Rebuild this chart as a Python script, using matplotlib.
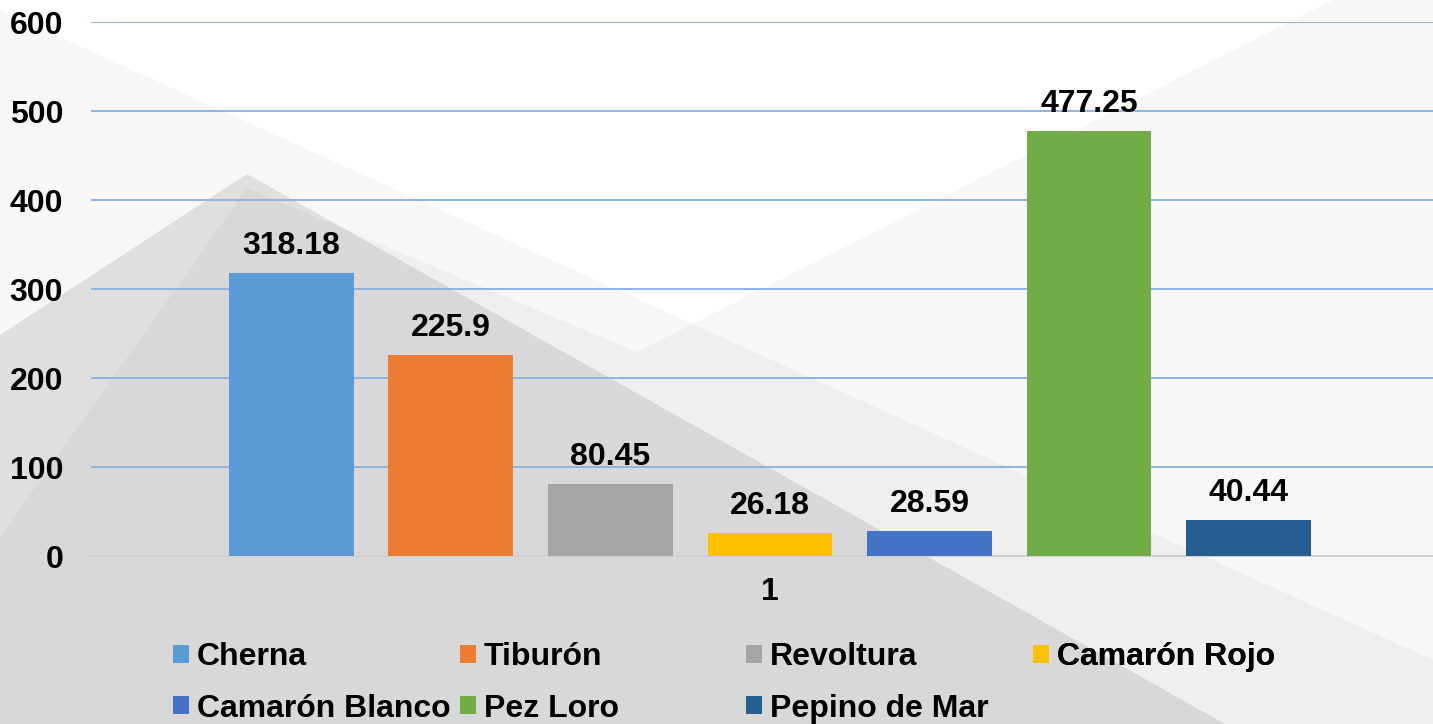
import matplotlib
matplotlib.use("Agg")
import matplotlib.pyplot as plt
from matplotlib.patches import Polygon, Patch
import numpy as np

plt.rcParams['font.family'] = ['Liberation Sans', 'DejaVu Sans']
plt.rcParams['font.weight'] = 'bold'

SPECIES = ['Cherna', 'Tiburón', 'Revoltura', 'Camarón Rojo',
           'Camarón Blanco', 'Pez Loro', 'Pepino de Mar']
VALUES = [318.18, 225.9, 80.45, 26.18, 28.59, 477.25, 40.44]
LABELS = ['318.18', '225.9', '80.45', '26.18', '28.59', '477.25', '40.44']
COLORS = ['#5b9bd5', '#ed7d31', '#a5a5a5', '#ffc000',
          '#4472c4', '#70ad47', '#255e91']
CATEGORY = ['1']
YTICKS = [0, 100, 200, 300, 400, 500, 600]

W, H = 1433, 724
FS = 23
fig = plt.figure(figsize=(W / 100, H / 100), dpi=100)
fig.patch.set_facecolor('white')


def px(points):
    # pixel coords (from top-left) -> figure fraction
    return [(x / W, 1 - y / H) for x, y in points]


# background decoration (semi transparent grey shapes)
shapes = [
    ([(0, 10), (1433, 660), (1433, 724), (0, 724)], 0.03),
    ([(0, 537), (247, 188), (637, 352), (1333, 0), (1433, 0),
      (1433, 724), (0, 724)], 0.03),
    ([(0, 335), (247, 174), (1225, 724), (0, 724)], 0.095),
]
for pts, a in shapes:
    fig.patches.append(Polygon(px(pts), closed=True, transform=fig.transFigure,
                               facecolor='black', edgecolor='none', alpha=a,
                               zorder=-10))

# axes: category width spans 91..1449 px, bottom at 556, top at 22
ax = fig.add_axes([91 / W, 1 - 556 / H, 1358 / W, 534 / H])
ax.set_facecolor('none')

n = len(VALUES)
slot = 159.5 / 1358
width = 125 / 1358
pos = 1 + (np.arange(n) - (n - 1) / 2) * slot

bars = ax.bar(pos, VALUES, width=width, color=COLORS, zorder=3)
for b, lab in zip(bars, LABELS):
    ax.annotate(lab, (b.get_x() + b.get_width() / 2, b.get_height()),
                xytext=(0, 19), textcoords='offset pixels',
                ha='center', va='baseline', fontsize=FS, fontweight='bold')

ax.set_xlim(0.5, 1.5)
ax.set_ylim(0, 600)
ax.set_yticks(YTICKS)
ax.set_xticks([1])
ax.set_xticklabels(CATEGORY)
ax.tick_params(axis='both', length=0, labelsize=FS)
ax.tick_params(axis='y', pad=20)
ax.tick_params(axis='x', pad=15)
ax.yaxis.grid(True, color='#8eb4e3', linewidth=1.4, zorder=0)
ax.set_axisbelow(True)
for s in ['left', 'right', 'top']:
    ax.spines[s].set_visible(False)
ax.spines['bottom'].set_color('#d0d0d0')
ax.spines['bottom'].set_linewidth(1.5)
ax.spines['bottom'].set_zorder(2)

# legend: 4 equally spaced columns, filled row-wise
handles = [Patch(facecolor=c, edgecolor='none') for c in COLORS]
col_x = [173, 460, 746, 1033]
for ci, cx in enumerate(col_x):
    idx = [ci, ci + 4] if ci + 4 < n else [ci]
    leg = ax.legend([handles[i] for i in idx], [SPECIES[i] for i in idx],
                    loc='upper left', bbox_to_anchor=(cx / W, 1 - 642 / H),
                    bbox_transform=fig.transFigure, frameon=False,
                    fontsize=FS, handlelength=0.5, handleheight=0.5,
                    handletextpad=0.25, labelspacing=0.68,
                    borderpad=0, borderaxespad=0)
    ax.add_artist(leg)

fig.savefig('out.png', dpi=100, facecolor=fig.get_facecolor())
